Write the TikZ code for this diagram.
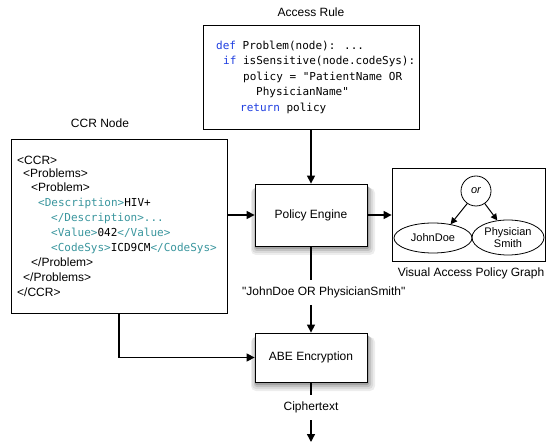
\documentclass[tikz,border=0pt]{standalone}
\usepackage{fontspec}
\usetikzlibrary{arrows.meta,shapes.geometric}
\newfontfamily\labfont{Liberation Sans}
\newfontfamily\codefont{DejaVu Sans Mono}
\definecolor{kwblue}{RGB}{30,62,225}
\definecolor{tagteal}{RGB}{58,150,158}
\newcommand{\kw}[1]{\textcolor{kwblue}{#1}}
\newcommand{\tg}[1]{\textcolor{tagteal}{#1}}
\begin{document}
\begin{tikzpicture}[x=1pt,y=-1pt,
  lab/.style={font=\labfont\fontsize{12}{14}\selectfont, inner sep=0pt},
  small/.style={font=\labfont\fontsize{11}{12.5}\selectfont, inner sep=0pt, align=center},
  code/.style={font=\codefont\fontsize{11}{13}\selectfont, inner sep=0pt, anchor=base west},
  sanstag/.style={font=\labfont\fontsize{12}{14}\selectfont, inner sep=0pt, anchor=base west},
  frame/.style={draw, line width=0.8pt, fill=white, inner sep=0pt},
  arr/.style={line width=1.4pt, -{Triangle[length=8pt,width=8pt]}},
  plain/.style={line width=1.4pt},
  thinarr/.style={line width=1pt, -{Triangle[length=6.5pt,width=6.5pt]}}]
\useasboundingbox (0,0) rectangle (551,443);

% Access rule
\node[lab] (artitle) at (311,12) {Access Rule};
\node[frame, minimum width=216pt, minimum height=104pt] (ar) at (311,77) {};
\node[code] (c1) at (216,49.5) {\kw{def} Problem(node): ...};
\node[code] (c2) at (223,65) {\kw{if} isSensitive(node.codeSys):};
\node[code] (c3) at (243,80.5) {policy = "PatientName OR};
\node[code] (c4) at (256,96) {PhysicianName"};
\node[code] (c5) at (240,111.5) {\kw{return} policy};

% CCR node
\node[lab] (ccrtitle) at (100,123) {CCR Node};
\node[frame, minimum width=216pt, minimum height=174pt] (ccr) at (119,226) {};
\node[sanstag] (x1) at (17,165) {<CCR>};
\node[sanstag] (x2) at (23,178) {<Problems>};
\node[sanstag] (x3) at (31,192) {<Problem>};
\node[code] (x4) at (38,207) {\tg{<Description>}HIV+};
\node[code] (x5) at (51,222) {\tg{</Description>...}};
\node[code] (x6) at (51,237) {\tg{<Value>}042\tg{</Value>}};
\node[code] (x7) at (51,252) {\tg{<CodeSys>}ICD9CM\tg{</CodeSys>}};
\node[sanstag] (x8) at (31,267) {</Problem>};
\node[sanstag] (x9) at (23,282) {</Problems>};
\node[sanstag] (x10) at (17,297) {</CCR>};

% Policy engine (with soft shadow)
\fill[black!7, rounded corners=5pt] (251,188) rectangle (375,255);
\fill[black!14, rounded corners=4pt] (252,188) rectangle (373,253);
\fill[black!24, rounded corners=3pt] (254,187) rectangle (371,251);
\fill[black!36, rounded corners=2pt] (255,186) rectangle (369,249);
\node[frame, lab, minimum width=112pt, minimum height=62pt] (pe) at (311,215) {Policy Engine};

% Graph
\node[frame, minimum width=153pt, minimum height=93pt] (graph) at (468.5,214.5) {};
\node[lab] (graphtitle) at (471,273) {Visual Access Policy Graph};
\node[draw, circle, line width=0.8pt, minimum size=30pt, inner sep=0pt, font=\labfont\itshape\fontsize{11}{12}\selectfont] (or) at (476,191) {or};
\node[draw, ellipse, line width=0.8pt, minimum width=78pt, minimum height=30pt, small] (jd) at (433,238) {JohnDoe};
\node[draw, ellipse, line width=0.8pt, minimum width=72pt, minimum height=35pt, small] (ps) at (508,237.5) {Physician\\Smith};
\draw[thinarr] (or.235) -- (jd.38);
\draw[thinarr] (or.305) -- (ps.122);

% ABE (with soft shadow)
\fill[black!7, rounded corners=5pt] (251,337) rectangle (375,391);
\fill[black!14, rounded corners=4pt] (252,337) rectangle (373,389);
\fill[black!24, rounded corners=3pt] (254,336) rectangle (371,387);
\fill[black!36, rounded corners=2pt] (255,335) rectangle (369,385);
\node[frame, lab, minimum width=112pt, minimum height=49pt] (abe) at (311,357.5) {ABE Encryption};

% labels
\node[lab, anchor=west] (pol) at (242,292) {"JohnDoe OR PhysicianSmith"};
\node[lab] (ct) at (311,407) {Ciphertext};

% coordinates
\coordinate (p1) at (311,280);
\coordinate (p2) at (311,305);
\coordinate (p3) at (311,395);
\coordinate (p4) at (311,420);
\coordinate (p5) at (311,442);

% connectors
\draw[arr] (ar.south) -- (pe.north);
\draw[arr] (ccr.east |- pe.west) -- (pe.west);
\draw[arr] (pe.east) -- (graph.west |- pe.east);
\draw[plain] (pe.south) -- (p1);
\draw[arr] (p2) -- (abe.north);
\draw[arr] (ccr.south) |- (abe.west);
\draw[plain] (abe.south) -- (p3);
\draw[arr] (p4) -- (p5);
\end{tikzpicture}
\end{document}
